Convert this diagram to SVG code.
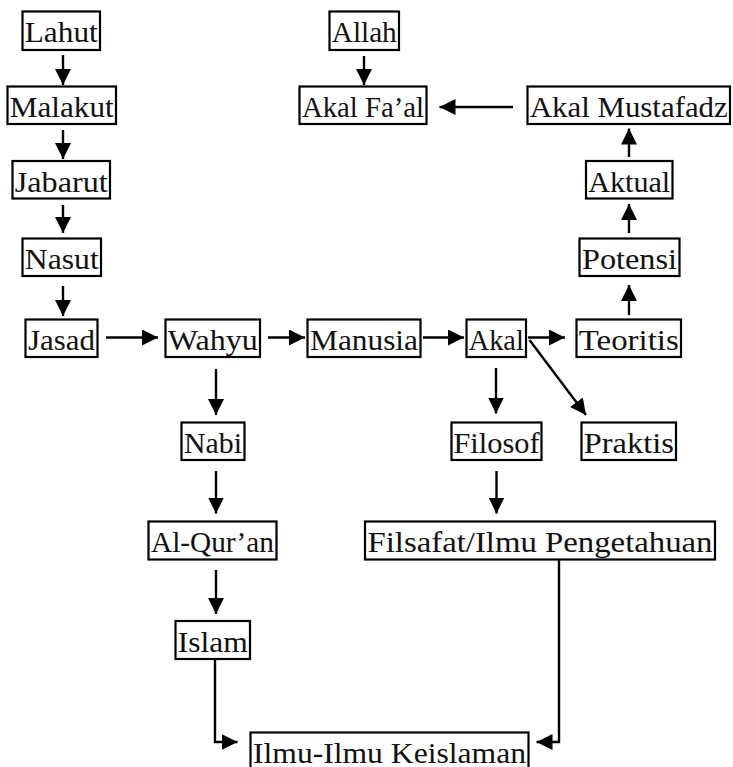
<svg xmlns="http://www.w3.org/2000/svg" width="733" height="767" viewBox="0 0 733 767">
<defs>
<style>
rect{fill:#fff;stroke:#000;stroke-width:2.2}
text{font-family:"Liberation Serif","Times New Roman",serif;font-size:30px;fill:#111;text-anchor:middle}
.c path,.c line,.c polyline{stroke:#000;stroke-width:2.4;fill:none}
</style>
<marker id="ah" viewBox="0 0 10 10" refX="10" refY="5" markerWidth="16" markerHeight="16" markerUnits="userSpaceOnUse" orient="auto">
<path d="M0,0 L10,5 L0,10 z" fill="#000"/>
</marker>
</defs>
<g class="c" id="connectors">
<line x1="63" y1="55" x2="63" y2="85" marker-end="url(#ah)"/>
<line x1="63" y1="130" x2="63" y2="159" marker-end="url(#ah)"/>
<line x1="63" y1="205" x2="63" y2="233" marker-end="url(#ah)"/>
<line x1="63" y1="286" x2="63" y2="316" marker-end="url(#ah)"/>
<line x1="106" y1="337.5" x2="158" y2="337.5" marker-end="url(#ah)"/>
<line x1="268" y1="337.5" x2="305" y2="337.5" marker-end="url(#ah)"/>
<line x1="423" y1="337.5" x2="464" y2="337.5" marker-end="url(#ah)"/>
<line x1="528" y1="337.5" x2="565" y2="337.5" marker-end="url(#ah)"/>
<line x1="529.5" y1="340" x2="586" y2="415" marker-end="url(#ah)"/>
<line x1="496" y1="368" x2="496" y2="413.5" marker-end="url(#ah)"/>
<line x1="216" y1="369" x2="216" y2="415" marker-end="url(#ah)"/>
<line x1="216" y1="471" x2="216" y2="513.5" marker-end="url(#ah)"/>
<line x1="216" y1="570" x2="216" y2="614" marker-end="url(#ah)"/>
<line x1="496.5" y1="471" x2="496.5" y2="513.5" marker-end="url(#ah)"/>
<polyline points="215,659 215,742 237.5,742" marker-end="url(#ah)"/>
<polyline points="559,560 559,742 536.5,742" marker-end="url(#ah)"/>
<line x1="629" y1="315" x2="629" y2="285" marker-end="url(#ah)"/>
<line x1="629" y1="233" x2="629" y2="204" marker-end="url(#ah)"/>
<line x1="629" y1="157" x2="629" y2="128.5" marker-end="url(#ah)"/>
<line x1="513" y1="107" x2="439.5" y2="107" marker-end="url(#ah)"/>
<line x1="364" y1="56" x2="364" y2="85" marker-end="url(#ah)"/>
</g>
<g id="lahut"><rect x="22.5" y="11.5" width="77.5" height="38.5"/><text x="61.25" y="42" textLength="73" lengthAdjust="spacingAndGlyphs">Lahut</text></g>
<g id="malakut"><rect x="7.5" y="86.5" width="108.5" height="37.5"/><text x="61.75" y="117" textLength="104" lengthAdjust="spacingAndGlyphs">Malakut</text></g>
<g id="jabarut"><rect x="12.5" y="161" width="97.5" height="37.5"/><text x="61.25" y="191.5" textLength="93" lengthAdjust="spacingAndGlyphs">Jabarut</text></g>
<g id="nasut"><rect x="22.5" y="238.5" width="78.5" height="37.5"/><text x="61.75" y="269" textLength="74" lengthAdjust="spacingAndGlyphs">Nasut</text></g>
<g id="jasad"><rect x="25.5" y="319.5" width="72" height="37.5"/><text x="61.5" y="350" textLength="67" lengthAdjust="spacingAndGlyphs">Jasad</text></g>
<g id="wahyu"><rect x="165.5" y="319.5" width="94.5" height="37.5"/><text x="212.75" y="350" textLength="90" lengthAdjust="spacingAndGlyphs">Wahyu</text></g>
<g id="manusia"><rect x="307.5" y="319.5" width="113" height="37.5"/><text x="364" y="350" textLength="108" lengthAdjust="spacingAndGlyphs">Manusia</text></g>
<g id="akal"><rect x="466.5" y="319.5" width="59.5" height="37.5"/><text x="496.25" y="350" textLength="55" lengthAdjust="spacingAndGlyphs">Akal</text></g>
<g id="teoritis"><rect x="576.5" y="319.5" width="104.5" height="37.5"/><text x="628.75" y="350" textLength="100" lengthAdjust="spacingAndGlyphs">Teoritis</text></g>
<g id="potensi"><rect x="579.5" y="238.5" width="100" height="37.5"/><text x="629.5" y="269" textLength="95" lengthAdjust="spacingAndGlyphs">Potensi</text></g>
<g id="aktual"><rect x="586" y="161" width="86.5" height="37.5"/><text x="629.25" y="191.5" textLength="82" lengthAdjust="spacingAndGlyphs">Aktual</text></g>
<g id="akal-mustafadz"><rect x="527.5" y="86.5" width="202.5" height="37.5"/><text x="628.75" y="117" textLength="198" lengthAdjust="spacingAndGlyphs">Akal Mustafadz</text></g>
<g id="akal-faal"><rect x="299.5" y="86.5" width="127" height="37.5"/><text x="363" y="117" textLength="122" lengthAdjust="spacingAndGlyphs">Akal Fa’al</text></g>
<g id="allah"><rect x="329.5" y="11.5" width="69.5" height="38.5"/><text x="364.25" y="42" textLength="65" lengthAdjust="spacingAndGlyphs">Allah</text></g>
<g id="nabi"><rect x="181.5" y="422.5" width="63" height="37.5"/><text x="213" y="453" textLength="58" lengthAdjust="spacingAndGlyphs">Nabi</text></g>
<g id="filosof"><rect x="451.5" y="422.5" width="90" height="37.5"/><text x="496.5" y="453" textLength="86" lengthAdjust="spacingAndGlyphs">Filosof</text></g>
<g id="praktis"><rect x="581.5" y="422.5" width="94.5" height="37.5"/><text x="628.75" y="453" textLength="90" lengthAdjust="spacingAndGlyphs">Praktis</text></g>
<g id="al-quran"><rect x="148.5" y="521.5" width="128" height="38"/><text x="212.5" y="552" textLength="123" lengthAdjust="spacingAndGlyphs">Al-Qur’an</text></g>
<g id="filsafat"><rect x="365" y="521.5" width="350" height="38"/><text x="540" y="552" textLength="345" lengthAdjust="spacingAndGlyphs">Filsafat/Ilmu Pengetahuan</text></g>
<g id="islam"><rect x="175.5" y="621" width="74.5" height="38"/><text x="212.75" y="651.5" textLength="70" lengthAdjust="spacingAndGlyphs">Islam</text></g>
<g id="ilmu-keislaman"><rect x="250.5" y="732.5" width="278" height="40"/><text x="389.5" y="763" textLength="273" lengthAdjust="spacingAndGlyphs">Ilmu-Ilmu Keislaman</text></g>
</svg>
